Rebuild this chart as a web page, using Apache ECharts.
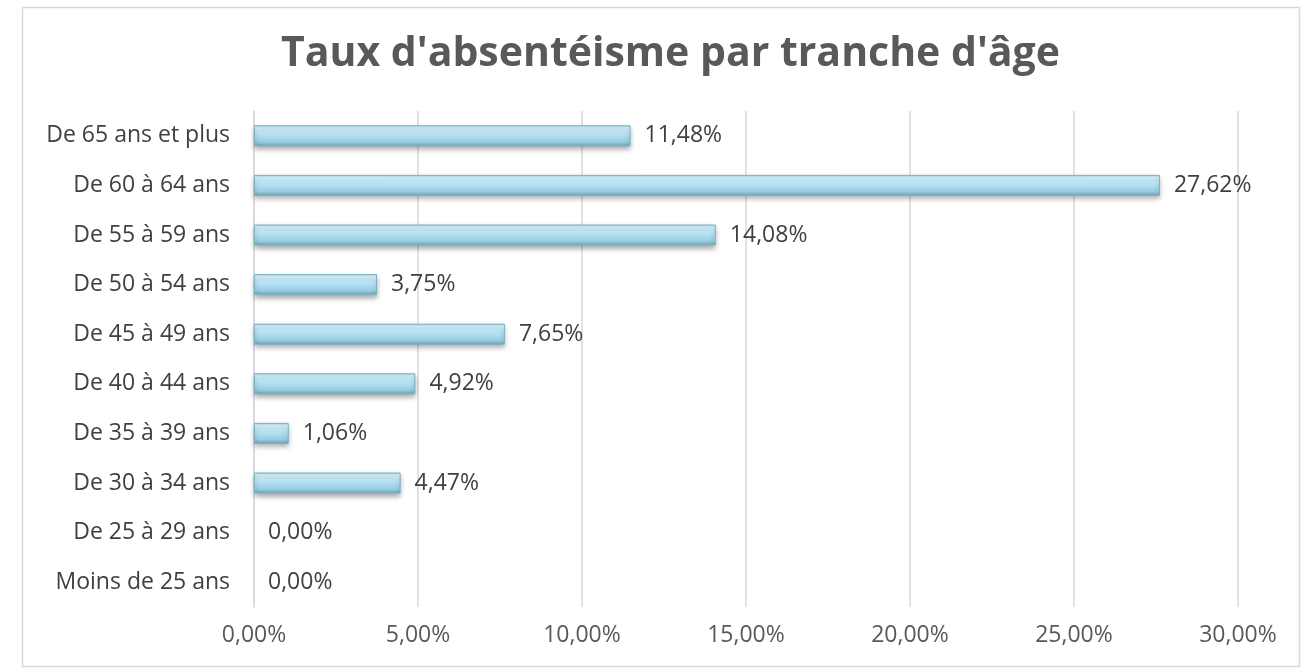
<!DOCTYPE html>
<html>
<head>
<meta charset="utf-8">
<script src="https://cdn.jsdelivr.net/npm/echarts@6/dist/echarts.min.js"></script>
<style>
html,body{margin:0;padding:0;background:#fff;}
#chart{width:1301px;height:669px;}
</style>
</head>
<body>
<div id="chart"></div>
<script>
var categories = ['Moins de 25 ans','De 25 à 29 ans','De 30 à 34 ans','De 35 à 39 ans','De 40 à 44 ans','De 45 à 49 ans','De 50 à 54 ans','De 55 à 59 ans','De 60 à 64 ans','De 65 ans et plus'];
var values = [0.00, 0.00, 4.47, 1.06, 4.92, 7.65, 3.75, 14.08, 27.62, 11.48];
var titleText = "Taux d'absentéisme par tranche d'âge";

function fmt(v){ return Number(v).toFixed(2).replace('.', ',') + '%'; }

var barData = values.map(function(v){
  return v > 0 ? v : {value: v, itemStyle: {color: 'rgba(0,0,0,0)', borderColor: 'rgba(0,0,0,0)', borderWidth: 0, shadowColor: 'rgba(0,0,0,0)', shadowBlur: 0, shadowOffsetY: 0}};
});

var chart = echarts.init(document.getElementById('chart'), null, {renderer:'canvas'});
chart.setOption({
  animation: false,
  backgroundColor: '#ffffff',
  graphic: [{
    type: 'rect',
    shape: {x: 22.5, y: 7.5, width: 1277, height: 659},
    style: {fill: 'none', stroke: '#d9d9d9', lineWidth: 1.5},
    z: -10
  }],
  title: {
    text: titleText,
    left: 276,
    top: 29,
    textStyle: {fontFamily: 'Open Sans', fontWeight: 'bold', fontSize: 41, color: '#595959'}
  },
  grid: {left: 254, right: 63, top: 111, bottom: 62},
  xAxis: {
    type: 'value',
    min: 0, max: 30, interval: 5,
    axisLine: {show: false},
    axisTick: {show: false},
    splitLine: {show: true, lineStyle: {color: '#d9d9d9', width: 1.5}},
    axisLabel: {formatter: fmt, color: '#595959', fontFamily: 'Open Sans', fontSize: 23, margin: 17}
  },
  yAxis: {
    type: 'category',
    data: categories,
    axisLine: {show: true, lineStyle: {color: '#d9d9d9', width: 1.5}},
    axisTick: {show: false},
    axisLabel: {color: '#404040', fontFamily: 'Open Sans', fontSize: 23, margin: 24}
  },
  series: [{
    type: 'bar',
    data: barData,
    barWidth: 21,
    itemStyle: {
      color: new echarts.graphic.LinearGradient(0, 0, 0, 1, [
        {offset: 0, color: '#9fd3e8'},
        {offset: 0.12, color: '#d4f3fc'},
        {offset: 0.45, color: '#b3e2f3'},
        {offset: 0.8, color: '#98cbe0'},
        {offset: 1, color: '#6f9fb3'}
      ]),
      borderColor: '#7fb0c4',
      borderWidth: 1,
      shadowColor: 'rgba(0,0,0,0.35)',
      shadowBlur: 5,
      shadowOffsetY: 3
    },
    label: {
      show: true,
      position: 'right',
      distance: 14,
      formatter: function(p){ return fmt(p.value); },
      color: '#404040',
      fontFamily: 'Open Sans',
      fontSize: 23
    }
  }]
});
</script>
</body>
</html>
